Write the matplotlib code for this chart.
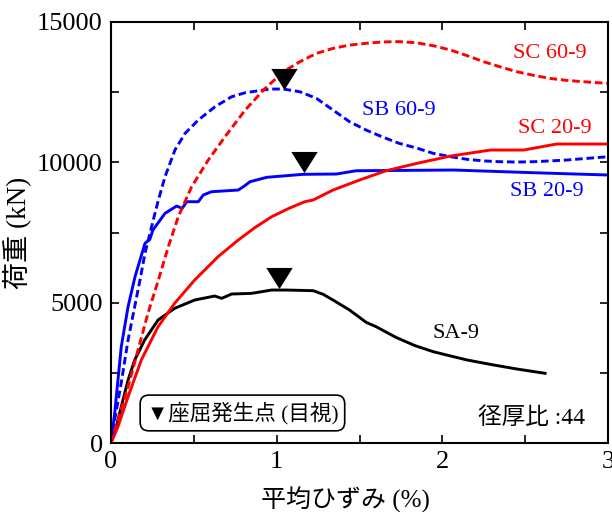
import matplotlib
matplotlib.use("Agg")
import matplotlib.pyplot as plt
from matplotlib.ticker import MultipleLocator
from matplotlib.path import Path

plt.rcParams['font.family'] = ['Liberation Serif', 'Noto Sans CJK JP']

# Data (average strain %, load kN)
sa9_x = [0, 0.022, 0.062, 0.103, 0.143, 0.203, 0.284, 0.384, 0.505, 0.626, 0.668, 0.728, 0.849,
         0.97, 1.06, 1.22, 1.28, 1.34, 1.44, 1.54, 1.60, 1.72, 1.83, 1.945, 2.05, 2.15, 2.3, 2.45, 2.62]
sa9_y = [0, 345, 1293, 2244, 2957, 3669, 4382, 4798, 5094, 5237, 5154, 5308, 5332,
         5450, 5450, 5427, 5300, 5094, 4738, 4300, 4144, 3764, 3480, 3253, 3100, 2957, 2790, 2636, 2483]

sb20_x = [0, 0.022, 0.062, 0.103, 0.145, 0.205, 0.234, 0.253, 0.326, 0.396, 0.43, 0.457, 0.527,
          0.557, 0.607, 0.768, 0.805, 0.839, 0.94, 1.16, 1.36, 1.48, 2.07, 2.55, 3.0]
sb20_y = [0, 1057, 3431, 4856, 5925, 7113, 7250, 7588, 8183, 8443, 8360, 8597, 8597,
          8835, 8953, 9013, 9156, 9309, 9466, 9573, 9583, 9700, 9726, 9630, 9548]

sb60_x = [0, 0.022, 0.062, 0.103, 0.143, 0.175, 0.205, 0.245, 0.286, 0.326, 0.386, 0.447, 0.527,
          0.628, 0.728, 0.81, 0.96, 1.04, 1.14, 1.24, 1.34, 1.44, 1.54, 1.64, 1.74,
          1.85, 1.945, 2.05, 2.15, 2.25, 2.35, 2.45, 2.55, 2.65, 2.75, 2.85, 3.0]
sb60_y = [0, 819, 2150, 3669, 4856, 5807, 6757, 7706, 8657, 9487, 10438, 11032, 11507,
          11981, 12337, 12480, 12611, 12611, 12515, 12280, 11863, 11447, 11150, 10900, 10676,
          10500, 10320, 10200, 10107, 10050, 10022, 10010, 10022, 10050, 10082, 10130, 10200]

sc20_x = [0, 0.042, 0.103, 0.183, 0.284, 0.384, 0.505, 0.646, 0.768, 0.87, 0.97, 1.07, 1.17,
          1.22, 1.34, 1.50, 1.66, 1.845, 2.05, 2.29, 2.49, 2.69, 3.0]
sc20_y = [0, 581, 1650, 2957, 4143, 4976, 5807, 6637, 7232, 7680, 8063, 8350, 8597,
          8657, 9013, 9369, 9700, 9962, 10224, 10438, 10438, 10652, 10652]

sc60_x = [0, 0.042, 0.103, 0.163, 0.223, 0.286, 0.346, 0.406, 0.487, 0.587, 0.688, 0.81, 0.92,
          1.04, 1.14, 1.24, 1.34, 1.44, 1.54, 1.64, 1.74, 1.845, 1.95, 2.05, 2.15, 2.25,
          2.35, 2.45, 2.55, 2.65, 2.75, 2.85, 3.0]
sc60_y = [0, 819, 2005, 3313, 4620, 5807, 6994, 8063, 9134, 10082, 10912, 11863, 12575,
          13228, 13584, 13881, 14060, 14178, 14240, 14290, 14300, 14260, 14150, 14000, 13800, 13584,
          13400, 13228, 13100, 12990, 12920, 12872, 12814]

buckle_x = [1.042, 1.166, 1.014]
buckle_y = [12975, 10022, 5878]

series_labels = ['SC 60-9', 'SB 60-9', 'SC 20-9', 'SB 20-9', 'SA-9']

fig = plt.figure(figsize=(6.12, 5.12), dpi=100)
ax = fig.add_axes([111/612, (512-443)/512, (608-111)/612, (443-22)/512])

lw = 2.1
dash = (0, (2.6, 1.3))
ax.plot(sa9_x, sa9_y, color='black', lw=lw)
ax.plot(sb20_x, sb20_y, color='#0000ff', lw=lw)
ax.plot(sb60_x, sb60_y, color='#0000ff', lw=lw, linestyle=dash)
ax.plot(sc20_x, sc20_y, color='#ff0000', lw=lw)
ax.plot(sc60_x, sc60_y, color='#ff0000', lw=lw, linestyle=dash)

tri = Path([(-1, 0.8), (1, 0.8), (0, -0.8), (-1, 0.8)], closed=True)
ax.plot(buckle_x, buckle_y, linestyle='none', marker=tri, color='black', markersize=19,
        markeredgewidth=0)

ax.set_xlim(0, 3)
ax.set_ylim(0, 15000)
ax.xaxis.set_major_locator(MultipleLocator(1))
ax.xaxis.set_minor_locator(MultipleLocator(0.5))
ax.yaxis.set_major_locator(MultipleLocator(5000))
ax.yaxis.set_minor_locator(MultipleLocator(2500))
ax.tick_params(which='both', direction='in', top=True, right=True, width=1.2)
ax.tick_params(which='major', length=6, labelsize=19, pad=6)
ax.tick_params(which='minor', length=6)
for s in ax.spines.values():
    s.set_linewidth(1.5)

ax.set_xlabel('平均ひずみ (%)', fontsize=18)
ax.set_ylabel('荷重 (kN)', fontsize=19.5)
ax.xaxis.set_label_coords(0.471, -0.105)
ax.yaxis.set_label_coords(-0.16, 0.5)

fs = 16
ax.text(2.65, 13894, series_labels[0], color='#ff0000', fontsize=fs, ha='center', va='center')
ax.text(1.735, 11863, series_labels[1], color='#0000ff', fontsize=fs, ha='center', va='center')
ax.text(2.68, 11210, series_labels[2], color='#ff0000', fontsize=fs, ha='center', va='center')
ax.text(2.63, 8953, series_labels[3], color='#0000ff', fontsize=fs, ha='center', va='center')
ax.text(2.08, 3907, series_labels[4], color='black', fontsize=fs, ha='center', va='center')
ax.text(2.86, 890, '径厚比 :44', color='black', fontsize=17, ha='right', va='center')
ax.text(0.215, 1070, '▼座屈発生点 (目視)', color='black', fontsize=15.5, ha='left', va='center',
        bbox=dict(boxstyle='round,pad=0.3,rounding_size=0.4', fc='white', ec='black', lw=1.2))

fig.savefig('out.png', dpi=100)
